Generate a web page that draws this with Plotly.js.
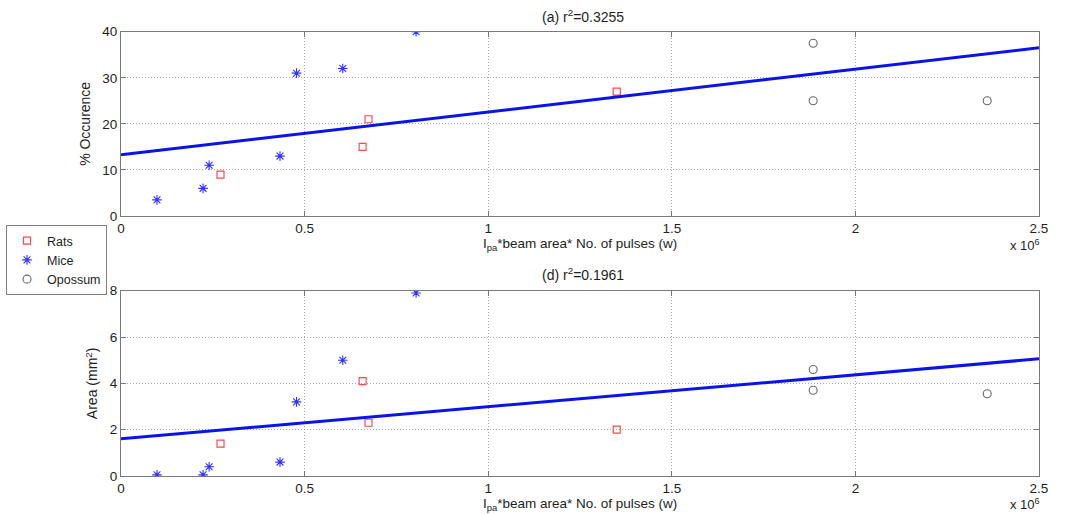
<!DOCTYPE html>
<html>
<head>
<meta charset="utf-8">
<script src="https://cdn.plot.ly/plotly-3.0.1.min.js"></script>
<style>
  html, body { margin: 0; padding: 0; background: #ffffff; }
  #chart { width: 1066px; height: 514px; }
</style>
</head>
<body>
<div id="chart"></div>
<script>
// Exposure: I_pa * beam area * number of pulses (W)
const ratsX = [271000, 658000, 674000, 1350000];
const ratsOcc = [9, 15, 21, 27];
const ratsArea = [1.4, 4.1, 2.3, 2.0];

const miceX = [98000, 223500, 240000, 433000, 478000, 604000, 803600];
const miceOcc = [3.5, 6, 11, 13, 31, 32, 40];
const miceArea = [0.05, 0.05, 0.4, 0.6, 3.2, 5.0, 7.9];

const opossumX = [1885000, 1885000, 2359000];
const opossumOcc = [37.5, 25, 25];
const opossumArea = [4.6, 3.7, 3.55];

// Least-squares fit lines, end points
const fitX = [0, 2500000];
const fitOcc = [13.3, 36.5];
const fitArea = [1.61, 5.06];

const xTickVals = [0, 500000, 1000000, 1500000, 2000000, 2500000];
const xTickText = ['0', '0.5', '1', '1.5', '2', '2.5'];
const occTicks = [0, 10, 20, 30, 40];
const areaTicks = [0, 2, 4, 6, 8];

const FONT = 'Liberation Sans, Arial, Helvetica, sans-serif';
const TXT = '#1e1e1e';
const ratsMarker = { symbol: 'square-open', size: 7, color: '#ff4a4a', line: { width: 1.2 } };
const miceMarker = { symbol: 'asterisk-open', size: 8, color: '#3030ff', line: { width: 1.1, color: '#3030ff' } };
const opossumMarker = { symbol: 'circle-open', size: 8, color: '#666666', line: { width: 1.1 } };
const fitLine = { color: '#0a14e6', width: 3 };

const traces = [
  { x: ratsX, y: ratsOcc, name: 'Rats', mode: 'markers', marker: ratsMarker, legendgroup: 'r', xaxis: 'x', yaxis: 'y' },
  { x: miceX, y: miceOcc, name: 'Mice', mode: 'markers', marker: miceMarker, legendgroup: 'm', xaxis: 'x', yaxis: 'y' },
  { x: opossumX, y: opossumOcc, name: 'Opossum', mode: 'markers', marker: opossumMarker, legendgroup: 'o', xaxis: 'x', yaxis: 'y' },
  { x: fitX, y: fitOcc, mode: 'lines', line: fitLine, showlegend: false, xaxis: 'x', yaxis: 'y' },

  { x: ratsX, y: ratsArea, name: 'Rats', mode: 'markers', marker: ratsMarker, legendgroup: 'r', showlegend: false, xaxis: 'x2', yaxis: 'y2' },
  { x: miceX, y: miceArea, name: 'Mice', mode: 'markers', marker: miceMarker, legendgroup: 'm', showlegend: false, xaxis: 'x2', yaxis: 'y2' },
  { x: opossumX, y: opossumArea, name: 'Opossum', mode: 'markers', marker: opossumMarker, legendgroup: 'o', showlegend: false, xaxis: 'x2', yaxis: 'y2' },
  { x: fitX, y: fitArea, mode: 'lines', line: fitLine, showlegend: false, xaxis: 'x2', yaxis: 'y2' }
];

const W = 1066, H = 514;
const xDom = [121 / W, 1039 / W];
const topDom = [1 - 216 / H, 1 - 31.7 / H];
const botDom = [1 - 476 / H, 1 - 290.7 / H];

const common = {
  ticks: 'inside', ticklen: 5, tickcolor: '#777777',
  showline: true, linecolor: '#7a7a7a', linewidth: 1, mirror: 'ticks',
  showgrid: true, gridcolor: '#a8a8a8', griddash: '1px,2px', gridwidth: 1,
  zeroline: false, automargin: false,
  tickfont: { family: FONT, size: 13.5, color: TXT }
};

function xAxis(anchor) {
  return Object.assign({
    domain: xDom, anchor: anchor, range: [0, 2500000],
    tickvals: xTickVals, ticktext: xTickText
  }, common);
}
function yAxis(anchor, dom, range, ticks, title) {
  return Object.assign({
    domain: dom, anchor: anchor, range: range, tickvals: ticks,
    title: { text: title, font: { family: FONT, size: 14, color: TXT }, standoff: 8 }
  }, common);
}

const xTitle = 'I<sub>pa</sub>*beam area* No. of pulses (w)';
function ann(text, xPx, yPx, xanchor, size, yanchor) {
  return {
    text: text, xref: 'paper', yref: 'paper', x: xPx / W, y: 1 - yPx / H,
    xanchor: xanchor || 'center', yanchor: yanchor || 'middle', showarrow: false,
    font: { family: FONT, size: size || 14, color: TXT }
  };
}

const layout = {
  width: W, height: H,
  margin: { l: 0, r: 0, t: 0, b: 0 },
  paper_bgcolor: '#ffffff', plot_bgcolor: '#ffffff',
  showlegend: true,
  legend: {
    x: 6 / W, y: 1 - 225 / H, xanchor: 'left', yanchor: 'top',
    bgcolor: '#ffffff', bordercolor: '#808080', borderwidth: 1,
    font: { family: FONT, size: 12.5, color: TXT },
    tracegroupgap: 0, itemwidth: 30
  },
  xaxis: xAxis('y'),
  yaxis: yAxis('x', topDom, [0, 40], occTicks, '% Occurence'),
  xaxis2: xAxis('y2'),
  yaxis2: yAxis('x2', botDom, [0, 8], areaTicks, 'Area (mm<sup>2</sup>)'),
  annotations: [
    ann('(a) r<sup>2</sup>=0.3255', 583, 16),
    ann('(d) r<sup>2</sup>=0.1961', 583, 274),
    ann(xTitle, 580, 234, 'center', 13.5, 'top'),
    ann(xTitle, 580, 494, 'center', 13.5, 'top'),
    ann('x 10<sup>6</sup>', 1042, 245, 'right', 13),
    ann('x 10<sup>6</sup>', 1042, 504, 'right', 13)
  ]
};

Plotly.newPlot('chart', traces, layout, { displayModeBar: false, staticPlot: true });
</script>
</body>
</html>
